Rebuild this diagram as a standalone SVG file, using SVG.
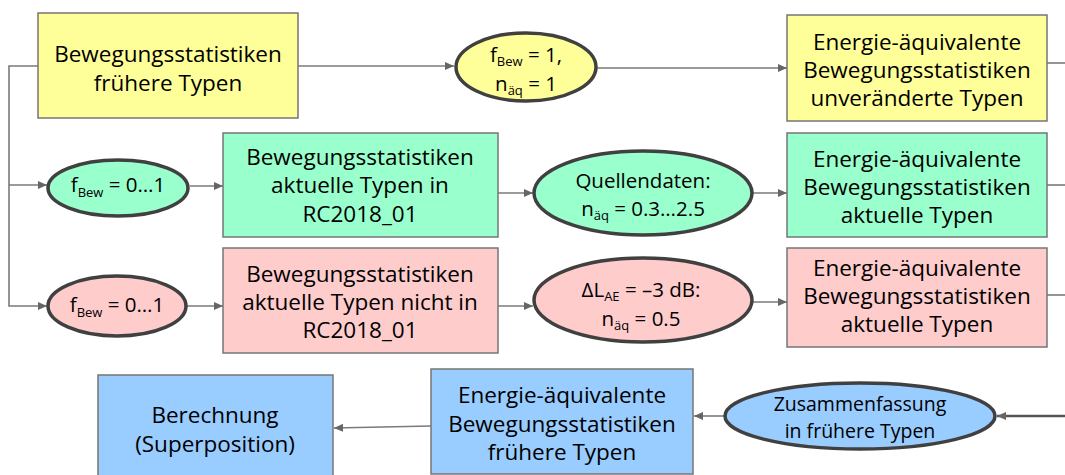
<svg xmlns="http://www.w3.org/2000/svg" width="1065" height="475" viewBox="0 0 1065 475">
<style>
.box{stroke:#767676;stroke-width:1.5}
.ell{stroke:#404040;stroke-width:3.5}
.y{fill:#FFFF99}.g{fill:#99FFCC}.p{fill:#FFCCCC}.b{fill:#99CCFF}
text{font-family:"Open Sans","Noto Sans","Liberation Sans",sans-serif;fill:#000;text-anchor:middle}
.t{font-size:22.5px}
.e{font-size:20.5px}
.e2{font-size:19.5px}
.s{font-size:13px}
.c{fill:none;stroke:#7a7a7a;stroke-width:1.6}
.c2{fill:none;stroke:#555;stroke-width:2.6}
</style>
<defs>
<marker id="a" markerUnits="userSpaceOnUse" markerWidth="10" markerHeight="10" refX="9" refY="5" orient="auto">
<path d="M0,1 L9,5 L0,9 Z" fill="#666"/>
</marker>
</defs>
<g id="connectors">
<path class="c" d="M38,66 H9 V306 H47" marker-end="url(#a)"/>
<path class="c" d="M9,185 H47" marker-end="url(#a)"/>
<path class="c" d="M298,66 H454" marker-end="url(#a)"/>
<path class="c" d="M597,68 H787" marker-end="url(#a)"/>
<path class="c" d="M1047,63 H1065"/>
<path class="c" d="M190,186 H223" marker-end="url(#a)"/>
<path class="c" d="M498,193 H533" marker-end="url(#a)"/>
<path class="c" d="M753,193 H787" marker-end="url(#a)"/>
<path class="c" d="M1047,185 H1065"/>
<path class="c" d="M186,306 H223" marker-end="url(#a)"/>
<path class="c" d="M498,306 H533" marker-end="url(#a)"/>
<path class="c" d="M753,302 H787" marker-end="url(#a)"/>
<path class="c" d="M1047,295 H1065"/>
<path class="c2" d="M1065,416 H997" marker-end="url(#a)"/>
<path class="c" d="M724,416 H694" marker-end="url(#a)"/>
<path class="c" d="M431,426 L334,428" marker-end="url(#a)"/>
</g>
<g id="n1"><rect class="box y" x="38" y="13" width="260" height="105"/>
<text class="t" x="168" y="62">Bewegungsstatistiken</text><text class="t" x="168" y="91">frühere Typen</text></g>
<g id="n2"><ellipse class="ell y" cx="526" cy="67" rx="70" ry="34"/>
<text class="e" x="526" y="62">f<tspan class="s" dy="4">Bew</tspan><tspan dy="-4"> = 1,</tspan></text>
<text class="e" x="526" y="91">n<tspan class="s" dy="4">äq</tspan><tspan dy="-4"> = 1</tspan></text></g>
<g id="n3"><rect class="box y" x="787" y="15" width="260" height="106"/>
<text class="t" x="917" y="50">Energie-äquivalente</text><text class="t" x="917" y="78">Bewegungsstatistiken</text><text class="t" x="917" y="106">unveränderte Typen</text></g>
<g id="n4"><ellipse class="ell g" cx="118" cy="188" rx="70" ry="28"/>
<text class="e" x="118" y="192">f<tspan class="s" dy="5">Bew</tspan><tspan dy="-5"> = 0…1</tspan></text></g>
<g id="n5"><rect class="box g" x="223" y="133" width="275" height="104"/>
<text class="t" x="360" y="165">Bewegungsstatistiken</text><text class="t" x="360" y="193">aktuelle Typen in</text><text class="t" x="360" y="222">RC2018_01</text></g>
<g id="n6"><ellipse class="ell g" cx="643" cy="193" rx="109" ry="42"/>
<text class="e" x="643" y="188">Quellendaten:</text>
<text class="e" x="643" y="216">n<tspan class="s" dy="4">äq</tspan><tspan dy="-4"> = 0.3…2.5</tspan></text></g>
<g id="n7"><rect class="box g" x="787" y="133" width="260" height="104"/>
<text class="t" x="917" y="167">Energie-äquivalente</text><text class="t" x="917" y="195">Bewegungsstatistiken</text><text class="t" x="917" y="223">aktuelle Typen</text></g>
<g id="n8"><ellipse class="ell p" cx="117" cy="306" rx="69" ry="30"/>
<text class="e" x="117" y="312">f<tspan class="s" dy="5">Bew</tspan><tspan dy="-5"> = 0…1</tspan></text></g>
<g id="n9"><rect class="box p" x="223" y="248" width="275" height="105"/>
<text class="t" x="360" y="282">Bewegungsstatistiken</text><text class="t" x="360" y="310">aktuelle Typen nicht in</text><text class="t" x="360" y="338">RC2018_01</text></g>
<g id="n10"><ellipse class="ell p" cx="643" cy="300" rx="109" ry="42"/>
<text class="e" x="641" y="297">ΔL<tspan class="s" dy="4">AE</tspan><tspan dy="-4"> = –3 dB:</tspan></text>
<text class="e" x="641" y="326">n<tspan class="s" dy="4">äq</tspan><tspan dy="-4"> = 0.5</tspan></text></g>
<g id="n11"><rect class="box p" x="787" y="248" width="260" height="99"/>
<text class="t" x="917" y="276">Energie-äquivalente</text><text class="t" x="917" y="304">Bewegungsstatistiken</text><text class="t" x="917" y="332">aktuelle Typen</text></g>
<g id="n12"><rect class="box b" x="98" y="375" width="235" height="110"/>
<text class="t" x="215" y="423">Berechnung</text><text class="t" x="215" y="452">(Superposition)</text></g>
<g id="n13"><rect class="box b" x="431" y="369" width="262" height="105"/>
<text class="t" x="562" y="403">Energie-äquivalente</text><text class="t" x="562" y="432">Bewegungsstatistiken</text><text class="t" x="562" y="460">frühere Typen</text></g>
<g id="n14"><ellipse class="ell b" cx="860" cy="416" rx="135" ry="33"/>
<text class="e2" x="860" y="411">Zusammenfassung</text><text class="e2" x="860" y="438">in frühere Typen</text></g>
</svg>
